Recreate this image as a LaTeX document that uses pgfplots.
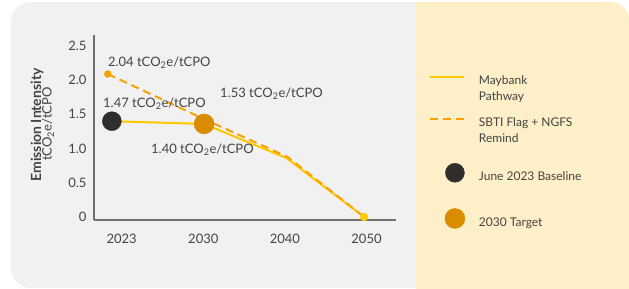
\documentclass[border=0pt]{standalone}
\usepackage{fontspec}
\setmainfont{Lato}
\usepackage{pgfplots}
\pgfplotsset{compat=1.18}
\definecolor{bggray}{HTML}{F1F1F1}
\definecolor{legbg}{HTML}{FDEFC7}
\definecolor{txt}{HTML}{444444}
\definecolor{axisgray}{HTML}{707070}
\definecolor{mayyellow}{HTML}{FFC700}
\definecolor{sbti}{HTML}{F4A300}
\definecolor{basedot}{HTML}{2F2E2D}
\definecolor{target}{HTML}{D98C00}
\definecolor{enddot}{HTML}{FFCB05}
\pgfplotsset{
  linelegendA/.style={legend image code/.code={\draw[##1] (0pt,23.5pt) -- (34pt,23.5pt); \path (0pt,-3pt);}},
  linelegend/.style={legend image code/.code={\draw[##1] (0pt,23.5pt) -- (34pt,23.5pt);}},
  dotlegendB/.style={legend image code/.code={\draw[##1] plot coordinates {(25pt,8pt)}; \path (25pt,-14pt) (25pt,23.5pt);}},
  dotlegend/.style={legend image code/.code={\draw[##1] plot coordinates {(25pt,8pt)};}},
}
\newcommand{\unit}{tCO\textsubscript{2}e/tCPO}
\begin{document}
\begin{tikzpicture}
\useasboundingbox (0,0) rectangle (629pt,289pt);
\fill[white] (0,0) rectangle (629pt,289pt);
\fill[bggray, rounded corners=20pt] (11pt,1pt) rectangle (450pt,287pt);
\fill[legbg, rounded corners=18pt] (416pt,-2pt) rectangle (629pt,287pt);
\fill[legbg] (416pt,-2pt) rectangle (629pt,150pt);
\fill[legbg] (416pt,-2pt) rectangle (540pt,287pt);
\begin{axis}[
  at={(94pt,69pt)}, anchor=south west, scale only axis,
  width=302pt, height=185pt,
  xmin=-0.339, xmax=3.361, ymin=-0.044, ymax=2.66,
  axis x line=bottom, axis y line=left,
  axis line style={-, draw=axisgray, line width=1.3pt},
  xtick={0,1,2,3}, xticklabels={2023,2030,2040,2050},
  ytick={0,0.5,1,1.5,2,2.5}, yticklabels={0,0.5,1.0,1.5,2.0,2.5},
  major tick length=0pt,
  tick label style={font=\fontsize{13}{15}\selectfont, text=txt},
  xticklabel style={yshift=-11pt},
  yticklabel style={xshift=-4pt},
  clip=false,
  legend cell align=left,
  legend style={at={(axis description cs:1.109,0.7806)}, anchor=north west,
    draw=none, fill=none, inner sep=0pt, outer sep=0pt,
    font=\fontsize{12}{15.5}\selectfont, text=txt,
    row sep=13.5pt, column sep=14pt,
    cells={align=left, anchor=base west}, nodes={inner sep=0pt}},
]
\addplot[mayyellow, line width=2pt, linelegendA] coordinates {
  (-0.12,1.40) (1.01,1.36) (2.02,0.86) (2.97,0)};
\addlegendentry{Maybank\\Pathway}
\addplot[sbti, line width=2pt, dash pattern=on 8pt off 5pt, linelegend] coordinates {
  (-0.17,2.09) (1.01,1.43) (2.03,0.88) (2.95,0.02)};
\addlegendentry{SBTI Flag + NGFS\\Remind}
\addplot[only marks, mark=*, mark size=9.5pt, basedot, mark options={draw=basedot, fill=basedot}, dotlegendB] coordinates {(-0.12,1.40)};
\addlegendentry{June 2023 Baseline}
\addplot[only marks, mark=*, mark size=10pt, target, mark options={draw=target, fill=target}, dotlegend] coordinates {(1.01,1.36)};
\addlegendentry{2030 Target}
\addplot[only marks, mark=*, mark size=3.5pt, sbti, mark options={draw=sbti, fill=sbti}, forget plot] coordinates {(-0.17,2.09)};
\addplot[only marks, mark=*, mark size=4pt, enddot, mark options={draw=enddot, fill=enddot}, forget plot] coordinates {(2.97,0)};
\begin{scope}[every node/.style={font=\fontsize{13}{15}\selectfont, text=txt, inner sep=0pt, anchor=base west}]
\node at (axis cs:-0.169,2.20) {2.04 \unit};
\node at (axis cs:-0.229,1.60) {1.47 \unit};
\node at (axis cs:1.205,1.747) {1.53 \unit};
\node at (axis cs:0.359,0.928) {1.40 \unit};
\end{scope}
\node[rotate=90, font=\fontsize{14}{16}\selectfont\bfseries, text=txt, inner sep=0pt] at (axis description cs:-0.188,0.514) {Emission Intensity};
\node[rotate=90, font=\fontsize{13}{15}\selectfont, text=txt, inner sep=0pt] at (axis description cs:-0.152,0.519) {\unit};
\end{axis}
\end{tikzpicture}
\end{document}
